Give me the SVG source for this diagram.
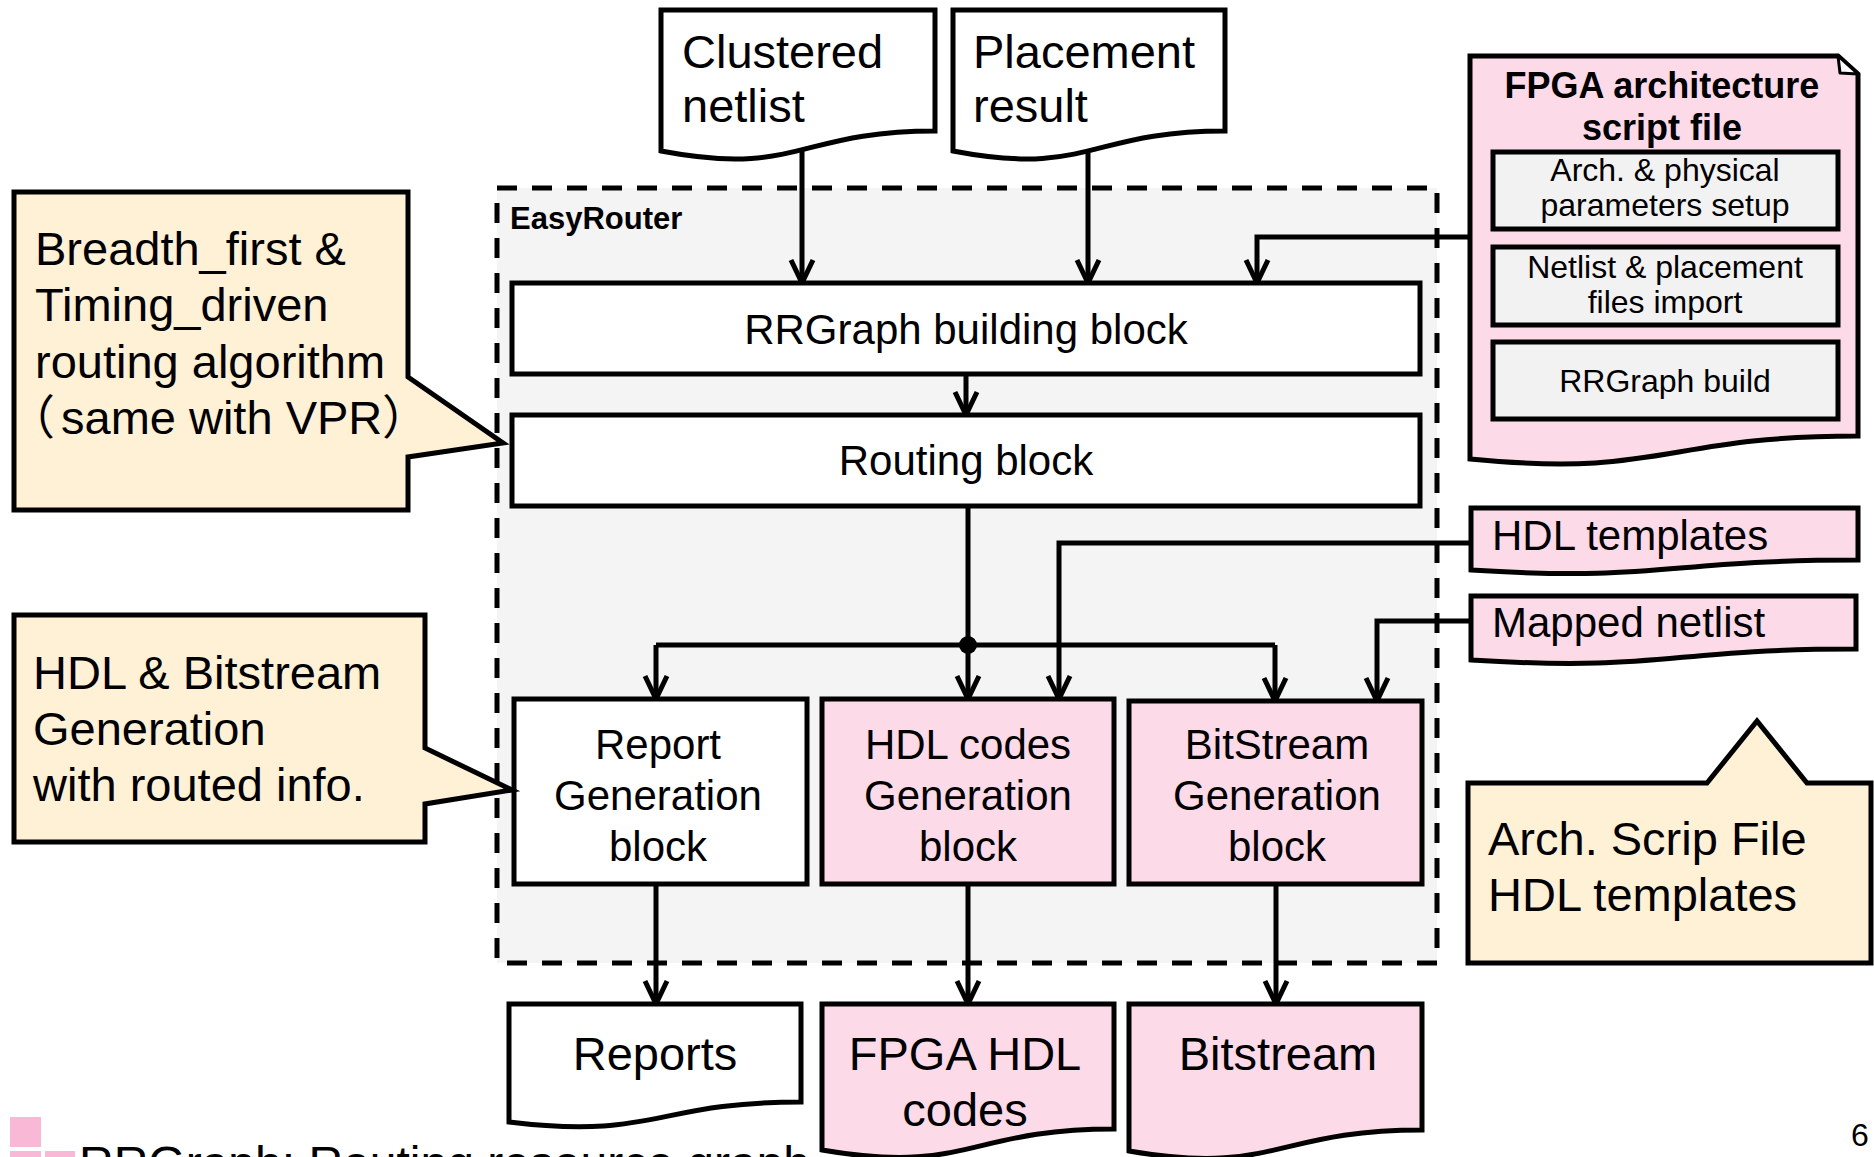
<svg xmlns="http://www.w3.org/2000/svg" width="1874" height="1157" viewBox="0 0 1874 1157">
  <defs>
    <style>
      text { font-family: "Liberation Sans", Arial, "Noto Sans CJK SC", sans-serif; fill: #000; }
      .box { stroke: #000; stroke-width: 5; stroke-linejoin: miter; }
      .white { fill: #fff; }
      .pink { fill: #fcdae8; }
      .cream { fill: #fff1d6; }
      .grey { fill: #f2f2f2; }
      .wire { fill: none; stroke: #000; stroke-width: 5; }
      .arrow { marker-end: url(#head); }
      .t47 { font-size: 47px; }
      .t42 { font-size: 42px; }
      .t32 { font-size: 32px; }
      .mid { text-anchor: middle; }
    </style>
    <marker id="head" markerUnits="userSpaceOnUse" markerWidth="30" markerHeight="30" viewBox="-26 -14 30 28" refX="0" refY="0" orient="auto" overflow="visible">
      <path d="M-23,-11 L0,0 L-23,11" fill="none" stroke="#000" stroke-width="5" stroke-linejoin="miter"/>
    </marker>
  </defs>

  <rect width="1874" height="1157" fill="#fff"/>

  <!-- EasyRouter container -->
  <g id="easyrouter">
    <rect x="497" y="188" width="940" height="775" fill="#f4f4f4" stroke="#000" stroke-width="5" stroke-dasharray="20 15"/>
    <text x="510" y="229" style="font-size:31px;font-weight:bold">EasyRouter</text>
  </g>

  <!-- connectors -->
  <g id="connectors">
    <path class="wire arrow" d="M802,140 V283"/>
    <path class="wire arrow" d="M1088,140 V283"/>
    <path class="wire arrow" d="M1470,237 H1257 V283"/>
    <path class="wire arrow" d="M966,374 V415"/>
    <path class="wire" d="M968,506 V645"/>
    <path class="wire" d="M656,645 H1275"/>
    <path class="wire arrow" d="M656,645 V699"/>
    <path class="wire arrow" d="M968,645 V699"/>
    <path class="wire arrow" d="M1275,645 V701"/>
    <circle cx="968" cy="645" r="9" fill="#000"/>
    <path class="wire arrow" d="M1471,543 H1059 V699"/>
    <path class="wire arrow" d="M1471,621 H1377 V701"/>
    <path class="wire arrow" d="M656,884 V1004"/>
    <path class="wire arrow" d="M968,884 V1004"/>
    <path class="wire arrow" d="M1276,884 V1004"/>
  </g>

  <!-- input documents -->
  <g id="clustered-netlist">
    <path class="box white" d="M661,10 H935 V131 C798,131 798,177 661,151 Z"/>
    <text class="t47" x="682" y="68">Clustered</text>
    <text class="t47" x="682" y="122">netlist</text>
  </g>
  <g id="placement-result">
    <path class="box white" d="M953,10 H1225 V131 C1089,131 1089,177 953,151 Z"/>
    <text class="t47" x="973" y="68">Placement</text>
    <text class="t47" x="973" y="122">result</text>
  </g>

  <!-- processing blocks -->
  <g id="rrgraph-block">
    <rect class="box white" x="512" y="283" width="908" height="91"/>
    <text class="t42 mid" x="966" y="344">RRGraph building block</text>
  </g>
  <g id="routing-block">
    <rect class="box white" x="512" y="415" width="908" height="91"/>
    <text class="t42 mid" x="966" y="475">Routing block</text>
  </g>
  <g id="report-block">
    <rect class="box white" x="514" y="699" width="293" height="185"/>
    <text class="t42 mid" x="658" y="759">Report</text>
    <text class="t42 mid" x="658" y="810">Generation</text>
    <text class="t42 mid" x="658" y="861">block</text>
  </g>
  <g id="hdl-block">
    <rect class="box pink" x="822" y="699" width="292" height="185"/>
    <text class="t42 mid" x="968" y="759">HDL codes</text>
    <text class="t42 mid" x="968" y="810">Generation</text>
    <text class="t42 mid" x="968" y="861">block</text>
  </g>
  <g id="bitstream-block">
    <rect class="box pink" x="1129" y="701" width="293" height="183"/>
    <text class="t42 mid" x="1277" y="759">BitStream</text>
    <text class="t42 mid" x="1277" y="810">Generation</text>
    <text class="t42 mid" x="1277" y="861">block</text>
  </g>

  <!-- output documents -->
  <g id="reports">
    <path class="box white" d="M509,1004 H801 V1102 C655,1102 655,1140 509,1122 Z"/>
    <text class="t47 mid" x="655" y="1070">Reports</text>
  </g>
  <g id="fpga-hdl-codes">
    <path class="box pink" d="M822,1004 H1114 V1129 C968,1129 968,1175 822,1150 Z"/>
    <text class="t47 mid" x="965" y="1070">FPGA HDL</text>
    <text class="t47 mid" x="965" y="1126">codes</text>
  </g>
  <g id="bitstream">
    <path class="box pink" d="M1129,1004 H1422 V1130 C1275,1130 1275,1176 1129,1151 Z"/>
    <text class="t47 mid" x="1278" y="1070">Bitstream</text>
  </g>

  <!-- architecture script file -->
  <g id="arch-script">
    <path class="box pink" d="M1470,56 H1838 L1858,74 V436 C1664,436 1664,478 1470,459 Z"/>
    <path d="M1838,56 L1840,73 L1858,74 Z" fill="#fff" stroke="#000" stroke-width="3" stroke-linejoin="round"/>
    <text class="mid" x="1662" y="98" style="font-size:36px;font-weight:bold">FPGA architecture</text>
    <text class="mid" x="1662" y="140" style="font-size:36px;font-weight:bold">script file</text>
    <rect class="box grey" x="1493" y="152" width="345" height="77"/>
    <text class="t32 mid" x="1665" y="181">Arch. &amp; physical</text>
    <text class="t32 mid" x="1665" y="216">parameters setup</text>
    <rect class="box grey" x="1493" y="247" width="345" height="78"/>
    <text class="t32 mid" x="1665" y="278">Netlist &amp; placement</text>
    <text class="t32 mid" x="1665" y="313">files import</text>
    <rect class="box grey" x="1493" y="342" width="345" height="77"/>
    <text class="t32 mid" x="1665" y="392">RRGraph build</text>
  </g>
  <g id="hdl-templates">
    <path class="box pink" d="M1471,508 H1858 V560 C1664,560 1664,582 1471,570 Z"/>
    <text class="t42" x="1492" y="550">HDL templates</text>
  </g>
  <g id="mapped-netlist">
    <path class="box pink" d="M1471,596 H1856 V649 C1664,649 1664,672 1471,660 Z"/>
    <text class="t42" x="1492" y="637">Mapped netlist</text>
  </g>

  <!-- callouts -->
  <g id="note-routing">
    <path class="box cream" d="M14,192 H408 V377 L503,443 L408,457 V510 H14 Z"/>
    <text class="t47" x="35" y="265">Breadth_first &amp;</text>
    <text class="t47" x="35" y="321">Timing_driven</text>
    <text class="t47" x="35" y="378">routing algorithm</text>
    <text class="t47" y="434"><tspan x="8">（</tspan><tspan x="61">same with VPR</tspan><tspan x="382">）</tspan></text>
  </g>
  <g id="note-generation">
    <path class="box cream" d="M14,615 H425 V748 L512,790 L425,804 V842 H14 Z"/>
    <text class="t47" x="33" y="689">HDL &amp; Bitstream</text>
    <text class="t47" x="33" y="745">Generation</text>
    <text class="t47" x="33" y="801">with routed info.</text>
  </g>
  <g id="note-arch">
    <path class="box cream" d="M1468,783 H1707 L1757,721 L1807,783 H1871 V963 H1468 Z"/>
    <text class="t47" x="1488" y="855">Arch. Scrip File</text>
    <text class="t47" x="1488" y="911">HDL templates</text>
  </g>

  <!-- footer -->
  <g id="footer">
    <rect x="10" y="1117" width="31" height="30" fill="#f9b8d5"/>
    <rect x="10" y="1151" width="31" height="10" fill="#f9b8d5"/>
    <rect x="45" y="1151" width="30" height="10" fill="#f9b8d5"/>
    <text style="font-size:48px" x="79" y="1180">RRGraph: Routing resource graph</text>
    <text class="t32" x="1851" y="1146">6</text>
  </g>
</svg>
